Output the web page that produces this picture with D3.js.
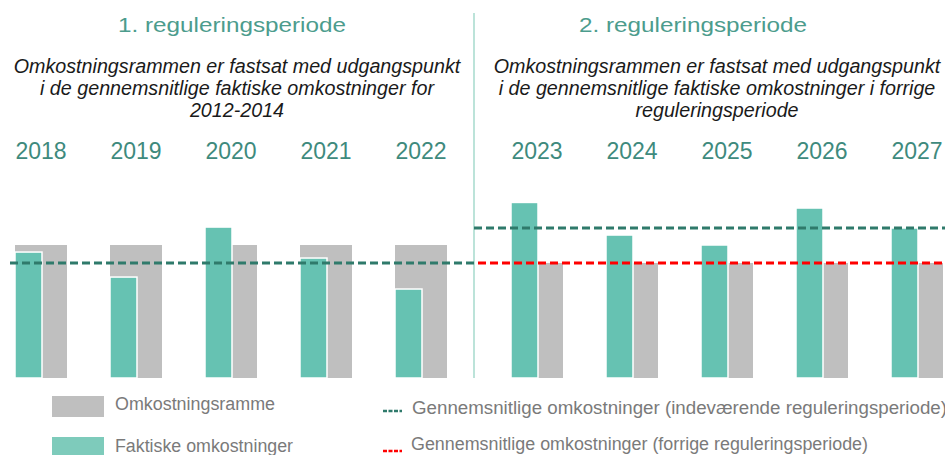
<!DOCTYPE html>
<html>
<head>
<meta charset="utf-8">
<script src="https://cdn.jsdelivr.net/npm/d3@7"></script>
<style>
  body { margin: 0; background: #fff; }
  svg { display: block; font-family: "Liberation Sans", Arial, sans-serif; }
</style>
</head>
<body>
<svg width="945" height="455"></svg>
<script>
// data, index: omkostningsramme for 1. periode = 100
var years1 = ["2018", "2019", "2020", "2021", "2022"];
var years2 = ["2023", "2024", "2025", "2026", "2027"];
var ramme1 = [100, 100, 100, 100, 100];
var faktiske1 = [94.7, 75.9, 113.5, 90.2, 66.9];
var ramme2 = [86.5, 86.5, 86.5, 86.5, 86.5];
var faktiske2 = [132, 107.5, 100, 127.8, 112.8];
var gnsIndev1 = 86.5;   // gennemsnit, indeværende periode (1)
var gnsIndev2 = 112.8;  // gennemsnit, indeværende periode (2)
var gnsForrige2 = 86.5; // gennemsnit, forrige periode

var periodTitles = ["1. reguleringsperiode", "2. reguleringsperiode"];
var subText1 = ["Omkostningsrammen er fastsat med udgangspunkt",
                "i de gennemsnitlige faktiske omkostninger for",
                "2012-2014"];
var subText2 = ["Omkostningsrammen er fastsat med udgangspunkt",
                "i de gennemsnitlige faktiske omkostninger i forrige",
                "reguleringsperiode"];
var legendBars = ["Omkostningsramme", "Faktiske omkostninger"];
var legendLines = ["Gennemsnitlige omkostninger (indeværende reguleringsperiode)",
                   "Gennemsnitlige omkostninger (forrige reguleringsperiode)"];

var teal = "#66c2b2", grey = "#bfbfbf", darkTeal = "#2f7a6b", red = "#ff0000";

var svg = d3.select("svg");
var base = 378;

var yScale = d3.scaleLinear().domain([0, 100]).range([base, 245]);
var x1 = d3.scaleBand().domain(years1).range([15, 447]).paddingInner(0.4526).paddingOuter(0);
var x2 = d3.scaleBand().domain(years2).range([511, 943]).paddingInner(0.4526).paddingOuter(0);
var tealW = 27;

// divider
svg.append("line")
   .attr("x1", 474).attr("x2", 474)
   .attr("y1", 13).attr("y2", base)
   .attr("stroke", "#a6dacd")
   .attr("stroke-width", 1.5);

// titles
svg.selectAll(".ptitle")
   .data(periodTitles)
   .enter().append("text")
   .attr("class", "ptitle")
   .attr("x", function(d, i) { return i == 0 ? 232 : 693; })
   .attr("y", 32)
   .attr("text-anchor", "middle")
   .attr("font-size", "21px")
   .attr("fill", "#4c9c8d")
   .attr("textLength", 228)
   .attr("lengthAdjust", "spacingAndGlyphs")
   .text(function(d) { return d; });

function subtitle(lines, cx) {
    svg.append("g").selectAll("text")
       .data(lines)
       .enter().append("text")
       .attr("x", cx)
       .attr("y", function(d, i) { return 73 + i * 22; })
       .attr("text-anchor", "middle")
       .attr("font-size", "19.7px")
       .attr("font-style", "italic")
       .attr("fill", "#1a1a1a")
       .text(function(d) { return d; });
}
subtitle(subText1, 237);
subtitle(subText2, 717);

function period(years, ramme, faktiske, xs) {
    var g = svg.append("g");
    g.selectAll(".year")
     .data(years)
     .enter().append("text")
     .attr("class", "year")
     .attr("x", function(d) { return xs(d) + xs.bandwidth() / 2; })
     .attr("y", 159)
     .attr("text-anchor", "middle")
     .attr("font-size", "23px")
     .attr("fill", "#3e8a7d")
     .text(function(d) { return d; });

    g.selectAll(".ramme")
     .data(years)
     .enter().append("rect")
     .attr("x", function(d) { return xs(d); })
     .attr("y", function(d, i) { return yScale(ramme[i]); })
     .attr("width", xs.bandwidth())
     .attr("height", function(d, i) { return base - yScale(ramme[i]); })
     .attr("fill", grey);

    g.selectAll(".faktisk")
     .data(years)
     .enter().append("rect")
     .attr("x", function(d) { return xs(d); })
     .attr("y", function(d, i) { return yScale(faktiske[i]); })
     .attr("width", tealW)
     .attr("height", function(d, i) { return base - yScale(faktiske[i]); })
     .attr("fill", teal)
     .attr("stroke", "#fff")
     .attr("stroke-width", 1.5);
}
period(years1, ramme1, faktiske1, x1);
period(years2, ramme2, faktiske2, x2);

function dashed(v, xa, xb, col) {
    svg.append("line")
       .attr("x1", xa).attr("x2", xb)
       .attr("y1", yScale(v)).attr("y2", yScale(v))
       .attr("stroke", col)
       .attr("stroke-width", 3)
       .attr("stroke-dasharray", "8,4");
}
dashed(gnsIndev1, 10, 474, darkTeal);
dashed(gnsIndev2, 474, 945, darkTeal);
dashed(gnsForrige2, 478, 945, red);

// legend
var leg = svg.append("g");
leg.selectAll("rect")
   .data(legendBars)
   .enter().append("rect")
   .attr("x", 52)
   .attr("y", function(d, i) { return i == 0 ? 396 : 437; })
   .attr("width", 52)
   .attr("height", 21)
   .attr("fill", function(d, i) { return i == 0 ? grey : "#7ecbbb"; });
leg.selectAll(".lb")
   .data(legendBars)
   .enter().append("text")
   .attr("class", "lb")
   .attr("x", 115)
   .attr("y", function(d, i) { return i == 0 ? 410 : 452; })
   .attr("font-size", "18px")
   .attr("fill", "#7a7a7a")
   .attr("textLength", function(d, i) { return i == 0 ? 160 : 178; })
   .attr("lengthAdjust", "spacingAndGlyphs")
   .text(function(d) { return d; });
leg.selectAll("line")
   .data(legendLines)
   .enter().append("line")
   .attr("x1", 383).attr("x2", 402)
   .attr("y1", function(d, i) { return i == 0 ? 411 : 451; })
   .attr("y2", function(d, i) { return i == 0 ? 411 : 451; })
   .attr("stroke", function(d, i) { return i == 0 ? darkTeal : red; })
   .attr("stroke-width", 2.5)
   .attr("stroke-dasharray", "4,1.5");
leg.selectAll(".ll")
   .data(legendLines)
   .enter().append("text")
   .attr("class", "ll")
   .attr("x", function(d, i) { return i == 0 ? 412 : 411; })
   .attr("y", function(d, i) { return i == 0 ? 414 : 450; })
   .attr("font-size", "18px")
   .attr("fill", "#7a7a7a")
   .attr("textLength", function(d, i) { return i == 0 ? 535 : 457; })
   .attr("lengthAdjust", "spacingAndGlyphs")
   .text(function(d) { return d; });
</script>
</body>
</html>
